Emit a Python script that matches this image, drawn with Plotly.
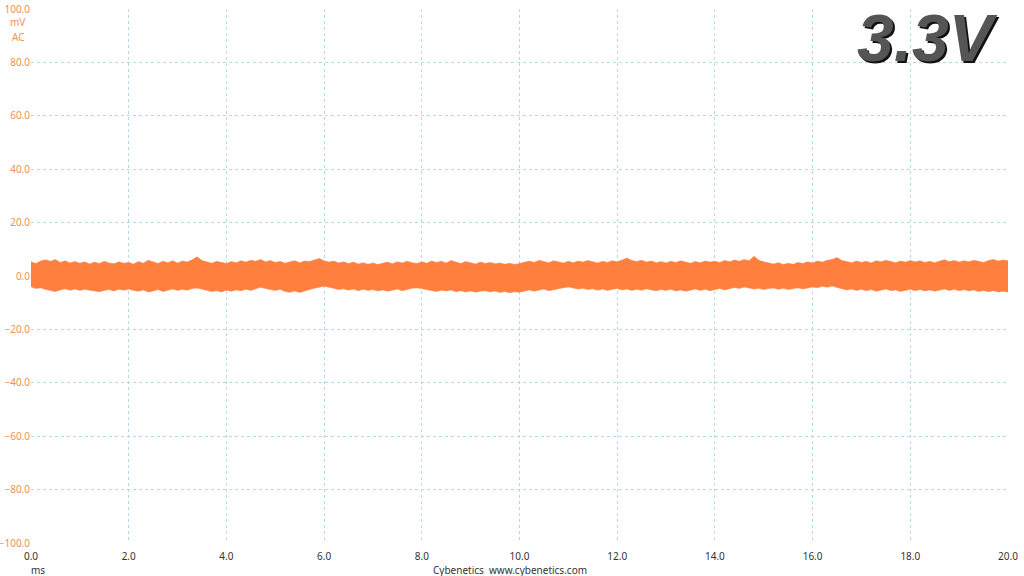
import plotly.graph_objects as go

# Time axis (ms), 0.1 ms step
t_step = 0.1

# Upper envelope of ripple trace (mV)
upper_mv = [
    5.3, 4.7, 5.6, 6.1, 5.5, 6.2, 5.1, 5.7, 4.9, 5.4,
    4.8, 5.3, 4.5, 5.2, 4.7, 5.5, 4.9, 4.6, 5.3, 4.8,
    5.1, 4.5, 5.4, 4.8, 5.9, 5.3, 4.7, 5.5, 5.0, 5.7,
    4.9, 5.6, 5.2, 6.1, 7.2, 5.8, 5.3, 4.8, 5.5, 5.1,
    4.7, 5.4, 5.0, 5.7, 5.2, 5.9, 5.5, 6.2, 5.3, 5.8,
    5.1, 5.5, 4.8, 5.3, 5.7, 5.0, 5.6, 5.4, 6.1, 6.6,
    5.7, 5.2, 5.6, 4.9, 5.3, 4.7, 5.2, 4.5, 5.0, 4.4,
    4.9, 4.3, 4.8, 5.2, 4.6, 5.3, 4.9, 5.5, 5.0, 4.7,
    5.3, 4.8, 5.6, 5.1, 5.5, 4.9, 5.8, 5.2, 4.7, 5.4,
    5.0, 4.5, 5.2, 4.7, 5.1, 4.6, 4.9, 4.4, 4.8, 4.3,
    4.7, 5.2, 5.6, 5.1, 5.9, 5.4, 5.0, 5.7, 5.3, 4.9,
    5.5, 5.0, 5.6, 5.2, 5.8, 5.3, 4.9, 5.5, 5.1, 5.7,
    5.3, 6.0, 6.7, 5.8, 5.4, 5.9, 5.2, 5.6, 5.0, 5.4,
    4.9, 5.5, 5.1, 5.7, 5.2, 4.8, 5.4, 5.0, 5.6, 5.2,
    5.5, 5.1, 5.8, 5.3, 6.0, 5.5, 6.2, 5.7, 7.4, 5.9,
    5.3, 4.9, 4.5, 5.0, 4.3, 4.8, 4.4, 5.1, 4.7, 5.3,
    4.9, 5.6, 5.2, 5.9, 6.2, 6.9, 5.8, 5.4, 5.0, 5.6,
    5.1, 5.5, 4.9, 5.7, 5.3, 5.9, 5.4, 5.0, 5.6, 5.2,
    5.8, 5.3, 5.7, 5.1, 5.5, 5.0, 5.6, 6.1, 5.4, 5.8,
    5.2, 5.7, 5.3, 5.9, 5.5, 5.1, 5.8, 6.2, 5.6, 6.0,
    5.7,
]

# Lower envelope of ripple trace (mV)
lower_mv = [
    -4.0, -4.7, -4.4, -5.1, -5.4, -5.8, -5.2, -4.8, -5.3, -4.9,
    -5.4, -5.0, -5.3, -5.5, -5.9, -5.4, -5.1, -5.6, -5.0, -5.3,
    -4.9, -5.4, -5.7, -5.2, -6.0, -5.6, -5.1, -5.8, -5.3, -4.9,
    -5.4, -5.0, -5.3, -4.7, -4.5, -4.9, -5.4, -5.8, -5.5, -6.0,
    -5.3, -5.7, -5.2, -5.5, -5.0, -5.4, -4.8, -4.2, -4.7, -5.1,
    -5.4, -5.0, -5.8, -6.1, -5.6, -6.2, -5.5, -5.1, -4.6, -4.3,
    -3.8, -4.2, -4.7, -5.1, -4.8, -5.3, -4.9, -5.5, -5.0, -5.4,
    -5.1, -5.6, -5.2, -5.7, -5.3, -4.9, -5.5, -5.0, -4.6, -4.4,
    -4.7, -5.1, -5.4, -5.8, -5.3, -5.6, -5.2, -5.9, -5.5, -6.0,
    -5.6, -6.1, -5.7, -5.5, -6.0, -5.6, -6.2, -5.8, -6.3, -5.9,
    -6.1, -5.6, -5.2, -5.7, -5.3, -4.9, -5.5, -5.1, -4.6, -4.4,
    -4.1, -4.5, -4.9, -4.6, -5.1, -4.8, -5.3, -4.9, -5.4, -5.0,
    -4.7, -5.2, -4.9, -5.4, -5.0, -5.3, -4.8, -5.2, -5.5, -5.1,
    -5.4, -5.0, -5.6, -5.2, -5.7, -5.3, -4.9, -5.4, -5.0, -5.5,
    -5.1, -4.7, -5.2, -4.8, -4.3, -4.7, -4.1, -4.5, -4.9, -4.6,
    -5.1, -4.7, -4.5, -5.0, -4.6, -5.1, -4.8, -4.4, -4.9, -4.5,
    -4.1, -4.4, -3.8, -4.2, -3.7, -4.3, -4.8, -5.2, -4.9, -5.4,
    -5.0, -5.5, -5.1, -5.7, -5.3, -4.9, -5.5, -5.2, -5.8, -5.4,
    -5.0, -5.5, -5.1, -5.6, -5.2, -5.7, -5.3, -4.9, -5.4, -5.0,
    -5.5, -5.1, -5.6, -5.2, -5.8, -5.4, -5.9, -5.5, -6.0, -5.7,
    -6.0,
]

time_ms = [round(i * t_step, 1) for i in range(len(upper_mv))]

x_ticks = [0, 2, 4, 6, 8, 10, 12, 14, 16, 18, 20]
y_ticks = [-100, -80, -60, -40, -20, 0, 20, 40, 60, 80, 100]

trace_color = "#FF7F3F"
grid_color = "#b3dbe6"
font_family = "Noto Sans, Open Sans, sans-serif"

fig = go.Figure()
fig.add_trace(go.Scatter(
    x=time_ms, y=lower_mv, mode="lines",
    line=dict(color=trace_color, width=0.5), hoverinfo="skip", showlegend=False,
))
fig.add_trace(go.Scatter(
    x=time_ms, y=upper_mv, mode="lines", fill="tonexty", fillcolor=trace_color,
    line=dict(color=trace_color, width=0.5), hoverinfo="skip", showlegend=False,
))

fig.update_layout(
    width=1024, height=576,
    margin=dict(l=31, r=16, t=9, b=33, autoexpand=False),
    paper_bgcolor="white", plot_bgcolor="white",
    font=dict(family=font_family, size=10, color="#333333"),
    xaxis=dict(
        range=[0, 20], tickvals=x_ticks, tickformat=".1f", automargin=False,
        showgrid=True, gridcolor=grid_color, griddash="dot", gridwidth=1,
        zeroline=False, showline=False,
        ticks="outside", ticklen=4, tickcolor="rgba(0,0,0,0)",
        tickfont=dict(size=10, color="#333333"),
    ),
    yaxis=dict(
        range=[-100, 100], tickvals=y_ticks, tickformat=".1f", automargin=False,
        showgrid=True, gridcolor=grid_color, griddash="dot", gridwidth=1,
        zeroline=False, showline=False, ticks="",
        tickfont=dict(size=10, color="#F0905A"),
    ),
)

# Unit labels under the top y tick
for txt, yp in [("mV", 0.9757), ("AC", 0.9476)]:
    fig.add_annotation(
        text=txt, xref="paper", yref="paper", x=0, y=yp,
        xanchor="right", yanchor="middle", xshift=-4, showarrow=False,
        font=dict(size=10, color="#F0905A", family=font_family),
    )

fig.add_annotation(
    text="ms", xref="paper", yref="paper", x=0.0072, y=-0.0506,
    xanchor="center", yanchor="middle", showarrow=False,
    font=dict(size=10, color="#333333", family=font_family),
)
fig.add_annotation(
    text="Cybenetics&nbsp;&nbsp;www.cybenetics.com", xref="paper", yref="paper",
    x=0.49, y=-0.0506, xanchor="center", yanchor="middle", showarrow=False,
    font=dict(size=10, color="#333333", family=font_family),
)

# Rail label with shadow
for color, dx, dy in [("#111111", 2, -2), ("#555555", 0, 0)]:
    fig.add_annotation(
        text="<b><i>3.3V</i></b>", xref="paper", yref="paper",
        x=0.992, y=0.9457, xanchor="right", yanchor="middle",
        xshift=dx, yshift=dy, showarrow=False,
        font=dict(size=66, color=color, family="Liberation Sans, Arial, sans-serif"),
    )

fig.write_html(
    "out.html",
    config={"displayModeBar": False},
    post_script="document.body.style.margin='0';",
)
